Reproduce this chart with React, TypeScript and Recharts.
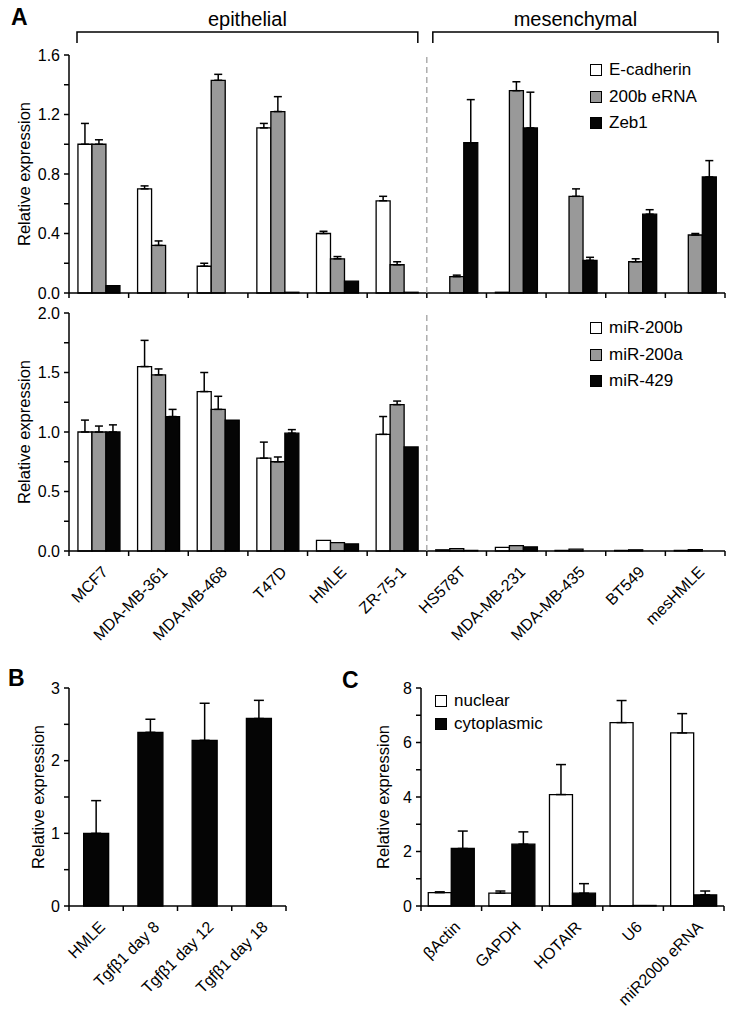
import React from 'react';
import { BarChart, Bar, XAxis, YAxis, ErrorBar, Legend } from 'recharts';

const FONT = '"Liberation Sans", Arial, Helvetica, sans-serif';

// Panel A: cell lines
const cellLines = ['MCF7', 'MDA-MB-361', 'MDA-MB-468', 'T47D', 'HMLE', 'ZR-75-1', 'HS578T', 'MDA-MB-231', 'MDA-MB-435', 'BT549', 'mesHMLE'];
const ecadherin = [1.0, 0.7, 0.18, 1.11, 0.4, 0.62, 0.0, 0.005, 0.0, 0.0, 0.0];
const ecadherinErr = [0.14, 0.02, 0.02, 0.03, 0.015, 0.03, 0, 0, 0, 0, 0];
const erna200b = [1.0, 0.32, 1.43, 1.22, 0.23, 0.19, 0.11, 1.36, 0.65, 0.21, 0.39];
const erna200bErr = [0.03, 0.03, 0.04, 0.1, 0.015, 0.02, 0.01, 0.06, 0.05, 0.02, 0.01];
const zeb1 = [0.05, 0.0, 0.0, 0.005, 0.08, 0.005, 1.01, 1.11, 0.22, 0.53, 0.78];
const zeb1Err = [0, 0, 0, 0, 0, 0, 0.29, 0.24, 0.02, 0.03, 0.11];

const mir200b = [1.0, 1.55, 1.34, 0.78, 0.09, 0.98, 0.01, 0.03, 0.005, 0.005, 0.005];
const mir200bErr = [0.1, 0.22, 0.16, 0.135, 0, 0.15, 0, 0, 0, 0, 0];
const mir200a = [1.0, 1.48, 1.19, 0.75, 0.07, 1.23, 0.02, 0.045, 0.015, 0.01, 0.012];
const mir200aErr = [0.05, 0.05, 0.11, 0.04, 0, 0.03, 0, 0, 0, 0, 0];
const mir429 = [1.0, 1.13, 1.1, 0.99, 0.06, 0.875, 0.005, 0.035, 0.0, 0.0, 0.0];
const mir429Err = [0.06, 0.06, 0, 0.03, 0, 0, 0, 0, 0, 0, 0];

const ticksATop = [0, 0.2, 0.4, 0.6, 0.8, 1.0, 1.2, 1.4, 1.6];
const ticksABottom = [0, 0.25, 0.5, 0.75, 1.0, 1.25, 1.5, 1.75, 2.0];

// Panel B
const tgfCategories = ['HMLE', 'Tgfβ1 day 8', 'Tgfβ1 day 12', 'Tgfβ1 day 18'];
const tgfValues = [1.0, 2.39, 2.28, 2.58];
const tgfErr = [0.45, 0.18, 0.51, 0.25];
const ticksB = [0, 0.5, 1, 1.5, 2, 2.5, 3];

// Panel C
const fractionCategories = ['βActin', 'GAPDH', 'HOTAIR', 'U6', 'miR200b eRNA'];
const nuclear = [0.49, 0.47, 4.09, 6.73, 6.35];
const nuclearErr = [0.03, 0.08, 1.1, 0.81, 0.71];
const cytoplasmic = [2.11, 2.27, 0.47, 0.02, 0.41];
const cytoplasmicErr = [0.64, 0.45, 0.35, 0, 0.14];
const ticksC = [0, 1, 2, 3, 4, 5, 6, 7, 8];

const err = (e: number) => (e > 0 ? [0, e] : null);

const dataTop = cellLines.map((name, i) => ({
  name,
  ecad: ecadherin[i], ecadE: err(ecadherinErr[i]),
  erna: erna200b[i], ernaE: err(erna200bErr[i]),
  zeb: zeb1[i], zebE: err(zeb1Err[i]),
}));
const dataBottom = cellLines.map((name, i) => ({
  name,
  b: mir200b[i], bE: err(mir200bErr[i]),
  a: mir200a[i], aE: err(mir200aErr[i]),
  m: mir429[i], mE: err(mir429Err[i]),
}));
const dataB = tgfCategories.map((name, i) => ({ name, v: tgfValues[i], vE: err(tgfErr[i]) }));
const dataC = fractionCategories.map((name, i) => ({
  name,
  nuc: nuclear[i], nucE: err(nuclearErr[i]),
  cyt: cytoplasmic[i], cytE: err(cytoplasmicErr[i]),
}));

const WHITE = '#ffffff';
const GRAY = '#999999';
const BLACK = '#050505';

const CatTick = (props: any) => {
  const { x, y, payload, index, band, count, divider, dividerH, labels } = props;
  const left = x - band / 2;
  return (
    <g>
      <line x1={left} x2={left} y1={y} y2={y + 5} stroke="#000" strokeWidth={1.5} />
      {index === count - 1 && (
        <line x1={x + band / 2} x2={x + band / 2} y1={y} y2={y + 5} stroke="#000" strokeWidth={1.5} />
      )}
      {divider === index && (
        <line x1={left} x2={left} y1={y} y2={y - dividerH} stroke="#9a9a9a" strokeWidth={1.2} strokeDasharray="6 4" />
      )}
      {labels && (
        <text
          transform={`translate(${x + 10},${y + 22}) rotate(-45)`}
          textAnchor="end"
          fontSize={16}
          fontFamily={FONT}
          fill="#000"
        >
          {payload.value}
        </text>
      )}
    </g>
  );
};

const YTitle = (props: any) => {
  const vb = props.viewBox || {};
  const cx = props.cx;
  const cy = (vb.y || 0) + (vb.height || 0) / 2;
  return (
    <text
      x={cx}
      y={cy}
      transform={`rotate(-90 ${cx} ${cy})`}
      textAnchor="middle"
      dominantBaseline="central"
      fontSize={16.5}
      fontFamily={FONT}
      fill="#000"
    >
      Relative expression
    </text>
  );
};

const SwatchLegend = (props: any) => {
  const { payload = [], rowH, order = [] } = props;
  const items = [...payload].sort((p: any, q: any) => order.indexOf(p.value) - order.indexOf(q.value));
  return (
    <div>
      {items.map((p: any) => (
        <div key={p.value} style={{ display: 'flex', alignItems: 'center', height: rowH }}>
          <span
            style={{
              display: 'inline-block',
              boxSizing: 'border-box',
              width: 12,
              height: 12,
              background: p.color,
              border: '1.5px solid #000',
              marginRight: 7,
            }}
          />
          <span style={{ fontSize: 17, fontFamily: FONT, color: '#000' }}>{p.value}</span>
        </div>
      ))}
    </div>
  );
};

const axisStroke = { stroke: '#000', strokeWidth: 1.5 };
const tickStyle = { fill: '#000', fontSize: 16, fontFamily: FONT };

const BAND_A = 656 / 11;

function TopA() {
  return (
    <BarChart width={733} height={310} data={dataTop} margin={{ top: 55, right: 8, bottom: 0, left: 0 }} barCategoryGap="15%" barGap={0}>
      <XAxis
        dataKey="name"
        height={17}
        interval={0}
        tickLine={false}
        tickSize={0}
        tickMargin={0}
        axisLine={axisStroke}
        tick={(p: any) => <CatTick {...p} band={BAND_A} count={11} divider={6} dividerH={238} labels={false} />}
      />
      <YAxis
        width={69}
        domain={[0, 1.6]}
        ticks={ticksATop}
        interval={0}
        tickFormatter={(v: number) => (Math.round(v * 10) % 4 === 0 ? v.toFixed(1) : '')}
        tick={tickStyle}
        tickSize={5}
        tickMargin={4}
        axisLine={axisStroke}
        tickLine={axisStroke}
        label={<YTitle cx={24} />}
      />
      <Legend
        layout="vertical"
        align="center"
        verticalAlign="middle"
        wrapperStyle={{ left: 590, top: 57, width: 140 }}
        content={<SwatchLegend rowH={26.5} order={['E-cadherin', '200b eRNA', 'Zeb1']} />}
      />
      <Bar dataKey="ecad" name="E-cadherin" fill={WHITE} stroke="#000" strokeWidth={1.3} isAnimationActive={false}>
        <ErrorBar dataKey="ecadE" direction="y" width={4} stroke="#000" strokeWidth={1.5} isAnimationActive={false} />
      </Bar>
      <Bar dataKey="erna" name="200b eRNA" fill={GRAY} stroke="#000" strokeWidth={1.3} isAnimationActive={false}>
        <ErrorBar dataKey="ernaE" direction="y" width={4} stroke="#000" strokeWidth={1.5} isAnimationActive={false} />
      </Bar>
      <Bar dataKey="zeb" name="Zeb1" fill={BLACK} stroke="#000" strokeWidth={1.3} isAnimationActive={false}>
        <ErrorBar dataKey="zebE" direction="y" width={4} stroke="#000" strokeWidth={1.5} isAnimationActive={false} />
      </Bar>
    </BarChart>
  );
}

function BottomA() {
  return (
    <BarChart width={733} height={370} data={dataBottom} margin={{ top: 13, right: 8, bottom: 0, left: 0 }} barCategoryGap="15%" barGap={0}>
      <XAxis
        dataKey="name"
        height={119}
        interval={0}
        tickLine={false}
        tickSize={0}
        tickMargin={0}
        axisLine={axisStroke}
        tick={(p: any) => <CatTick {...p} band={BAND_A} count={11} divider={6} dividerH={238} labels />}
      />
      <YAxis
        width={69}
        domain={[0, 2]}
        ticks={ticksABottom}
        interval={0}
        tickFormatter={(v: number) => (Math.round(v * 100) % 50 === 0 ? v.toFixed(1) : '')}
        tick={tickStyle}
        tickSize={5}
        tickMargin={4}
        axisLine={axisStroke}
        tickLine={axisStroke}
        label={<YTitle cx={24} />}
      />
      <Legend
        layout="vertical"
        align="center"
        verticalAlign="middle"
        wrapperStyle={{ left: 590, top: 15, width: 140 }}
        content={<SwatchLegend rowH={26.5} order={['miR-200b', 'miR-200a', 'miR-429']} />}
      />
      <Bar dataKey="b" name="miR-200b" fill={WHITE} stroke="#000" strokeWidth={1.3} isAnimationActive={false}>
        <ErrorBar dataKey="bE" direction="y" width={4} stroke="#000" strokeWidth={1.5} isAnimationActive={false} />
      </Bar>
      <Bar dataKey="a" name="miR-200a" fill={GRAY} stroke="#000" strokeWidth={1.3} isAnimationActive={false}>
        <ErrorBar dataKey="aE" direction="y" width={4} stroke="#000" strokeWidth={1.5} isAnimationActive={false} />
      </Bar>
      <Bar dataKey="m" name="miR-429" fill={BLACK} stroke="#000" strokeWidth={1.3} isAnimationActive={false}>
        <ErrorBar dataKey="mE" direction="y" width={4} stroke="#000" strokeWidth={1.5} isAnimationActive={false} />
      </Bar>
    </BarChart>
  );
}

const BAND_B = 217 / 4;

function PanelB() {
  return (
    <BarChart width={300} height={341} data={dataB} margin={{ top: 18, right: 14, bottom: 0, left: 0 }} barCategoryGap="27%">
      <XAxis
        dataKey="name"
        height={105}
        interval={0}
        tickLine={false}
        tickSize={0}
        tickMargin={0}
        axisLine={axisStroke}
        tick={(p: any) => <CatTick {...p} band={BAND_B} count={4} labels />}
      />
      <YAxis
        width={69}
        domain={[0, 3]}
        ticks={ticksB}
        interval={0}
        tickFormatter={(v: number) => (Number.isInteger(v) ? String(v) : '')}
        tick={tickStyle}
        tickSize={5}
        tickMargin={4}
        axisLine={axisStroke}
        tickLine={axisStroke}
        label={<YTitle cx={38} />}
      />
      <Bar dataKey="v" name="expression" fill={BLACK} stroke="#000" strokeWidth={1.3} isAnimationActive={false}>
        <ErrorBar dataKey="vE" direction="y" width={5} stroke="#000" strokeWidth={1.5} isAnimationActive={false} />
      </Bar>
    </BarChart>
  );
}

const BAND_C = 303 / 5;

function PanelC() {
  return (
    <BarChart width={373} height={341} data={dataC} margin={{ top: 18, right: 9, bottom: 0, left: 0 }} barCategoryGap="12%" barGap={0}>
      <XAxis
        dataKey="name"
        height={105}
        interval={0}
        tickLine={false}
        tickSize={0}
        tickMargin={0}
        axisLine={axisStroke}
        tick={(p: any) => <CatTick {...p} band={BAND_C} count={5} labels />}
      />
      <YAxis
        width={61}
        domain={[0, 8]}
        ticks={ticksC}
        interval={0}
        tickFormatter={(v: number) => (v % 2 === 0 ? String(v) : '')}
        tick={tickStyle}
        tickSize={5}
        tickMargin={4}
        axisLine={axisStroke}
        tickLine={axisStroke}
        label={<YTitle cx={23} />}
      />
      <Legend
        layout="vertical"
        align="center"
        verticalAlign="middle"
        wrapperStyle={{ left: 75, top: 19, width: 150 }}
        content={<SwatchLegend rowH={23.5} order={['nuclear', 'cytoplasmic']} />}
      />
      <Bar dataKey="nuc" name="nuclear" fill={WHITE} stroke="#000" strokeWidth={1.3} isAnimationActive={false}>
        <ErrorBar dataKey="nucE" direction="y" width={5} stroke="#000" strokeWidth={1.5} isAnimationActive={false} />
      </Bar>
      <Bar dataKey="cyt" name="cytoplasmic" fill={BLACK} stroke="#000" strokeWidth={1.3} isAnimationActive={false}>
        <ErrorBar dataKey="cytE" direction="y" width={5} stroke="#000" strokeWidth={1.5} isAnimationActive={false} />
      </Bar>
    </BarChart>
  );
}

// bracket geometry derived from panel A layout
const PLOT_LEFT_A = 69;
const BOUNDARY_A = PLOT_LEFT_A + 6 * BAND_A;
const PLOT_RIGHT_A = PLOT_LEFT_A + 11 * BAND_A;
const groups = [
  { label: 'epithelial', x1: PLOT_LEFT_A + 8, x2: BOUNDARY_A - 9 },
  { label: 'mesenchymal', x1: BOUNDARY_A + 6, x2: PLOT_RIGHT_A - 7 },
];

export default function App() {
  return (
    <div style={{ position: 'absolute', left: 0, top: 0, width: 733, height: 1011, background: '#fff', fontFamily: FONT }}>
      <div style={{ position: 'absolute', left: 0, top: 300 }}>
        <BottomA />
      </div>
      <div style={{ position: 'absolute', left: 0, top: 0 }}>
        <TopA />
      </div>
      <div style={{ position: 'absolute', left: 0, top: 670 }}>
        <PanelB />
      </div>
      <div style={{ position: 'absolute', left: 360, top: 670 }}>
        <PanelC />
      </div>
      <svg width={733} height={1011} style={{ position: 'absolute', left: 0, top: 0, pointerEvents: 'none' }}>
        {groups.map((g) => (
          <g key={g.label}>
            <polyline
              points={`${g.x1},43 ${g.x1},32 ${g.x2},32 ${g.x2},43`}
              fill="none"
              stroke="#000"
              strokeWidth={1.5}
            />
            <text x={(g.x1 + g.x2) / 2} y={26} textAnchor="middle" fontSize={20} fontFamily={FONT} fill="#000">
              {g.label}
            </text>
          </g>
        ))}
        <text x={11} y={25} fontSize={23} fontWeight="bold" fontFamily={FONT} fill="#000">A</text>
        <text x={8} y={686} fontSize={23} fontWeight="bold" fontFamily={FONT} fill="#000">B</text>
        <text x={342} y={688} fontSize={23} fontWeight="bold" fontFamily={FONT} fill="#000">C</text>
      </svg>
    </div>
  );
}
